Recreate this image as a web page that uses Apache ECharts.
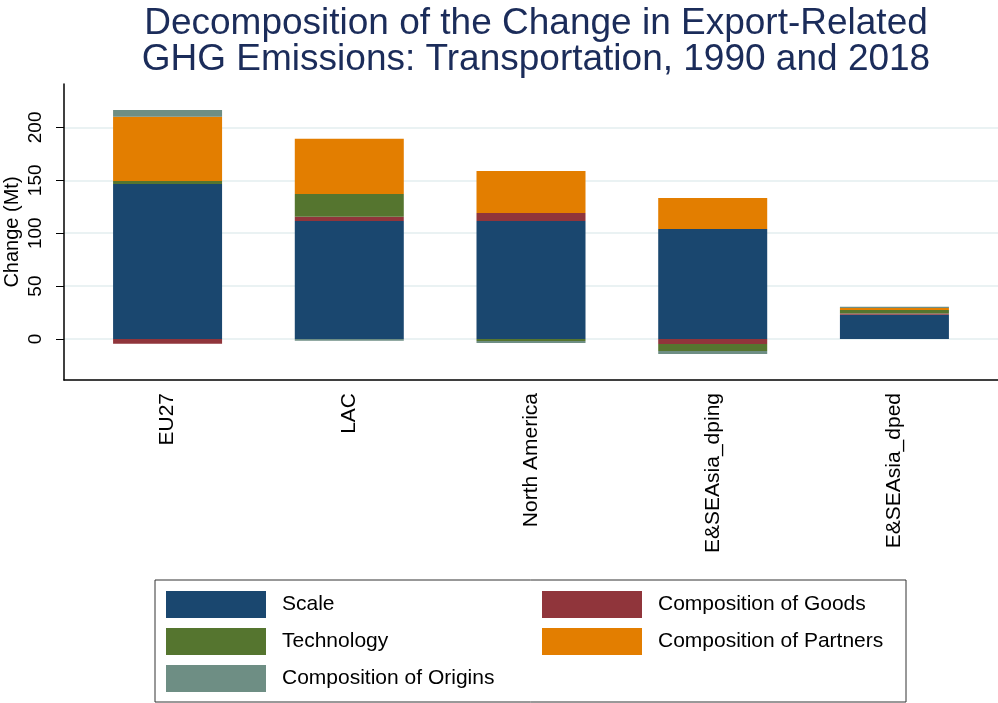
<!DOCTYPE html>
<html>
<head>
<meta charset="utf-8">
<script src="https://cdn.jsdelivr.net/npm/echarts@6/dist/echarts.min.js"></script>
<style>
  html, body { margin: 0; padding: 0; background: #fff; }
  #chart { width: 998px; height: 703px; }
</style>
</head>
<body>
<div id="chart"></div>
<script>
// regions on the x axis
const categories = ['EU27', 'LAC', 'North America', 'E&SEAsia_dping', 'E&SEAsia_dped'];
// change in Mt
const scale = [146.5, 111.5, 111.5, 104.0, 23.0];
const goods = [-4.4, 4.1, 7.6, -4.7, 1.0];
const technology = [2.8, 21.4, -1.9, -6.6, 3.5];
const partners = [60.8, 52.3, 39.7, 29.3, 1.9];
const origins = [6.3, -1.6, -1.9, -2.8, 1.0];
const yTicks = [0, 50, 100, 150, 200];

const chart = echarts.init(document.getElementById('chart'));

const font = '"Liberation Sans", Arial, Helvetica, sans-serif';
const positions = categories.map((c, i) => i + 1);

// value first so the stack runs on y, position second for x
function makeSeries(name, values, color) {
  return {
    name: name,
    type: 'bar',
    stack: 'total',
    barWidth: 109,
    itemStyle: { color: color },
    emphasis: { disabled: true },
    encode: { x: 1, y: 0 },
    data: values.map((v, i) => [v, positions[i]])
  };
}

const legendCommon = {
  orient: 'vertical',
  top: 591,
  padding: 0,
  icon: 'rect',
  itemWidth: 100,
  itemHeight: 27,
  itemGap: 10,
  selectedMode: false,
  textStyle: { fontSize: 21, color: '#000', fontFamily: font, padding: [2, 0, 0, 11] }
};

const option = {
  backgroundColor: '#fff',
  animation: false,
  textStyle: { fontFamily: font },
  title: {
    text: 'Decomposition of the Change in Export-Related\nGHG Emissions: Transportation, 1990 and 2018',
    left: 531,
    top: 0,
    textAlign: 'center',
    textStyle: {
      fontFamily: font,
      fontSize: 37,
      fontWeight: 'normal',
      color: '#1b2c5a',
      lineHeight: 36.6
    }
  },
  grid: { left: 64, right: 0, top: 84, bottom: 323, outerBoundsMode: 'none', containLabel: false },
  xAxis: {
    type: 'value',
    min: 0.43,
    max: 5.57,
    axisLine: { onZero: false, lineStyle: { color: '#000', width: 1.5 } },
    axisTick: { show: false, customValues: positions },
    splitLine: { show: false },
    axisLabel: {
      customValues: positions,
      rotate: 90,
      margin: 13,
      fontSize: 21,
      color: '#000',
      fontFamily: font,
      formatter: v => categories[Math.round(v) - 1]
    }
  },
  yAxis: {
    type: 'value',
    min: -38.75,
    max: 241,
    name: 'Change (Mt)',
    nameLocation: 'middle',
    nameRotate: 90,
    nameGap: 42,
    nameMoveOverlap: false,
    nameTextStyle: { fontSize: 20, color: '#000', fontFamily: font },
    axisLine: { show: true, lineStyle: { color: '#000', width: 1.5 } },
    axisTick: { show: true, length: 8, customValues: yTicks, lineStyle: { color: '#000' } },
    axisLabel: {
      customValues: yTicks,
      rotate: 90,
      margin: 19,
      fontSize: 19,
      color: '#000',
      fontFamily: font
    },
    splitLine: { show: true, lineStyle: { color: '#eaf2f3', width: 2 } }
  },
  legend: [
    Object.assign({}, legendCommon, {
      left: 166,
      data: ['Scale', 'Technology', 'Composition of Origins']
    }),
    Object.assign({}, legendCommon, {
      left: 542,
      data: ['Composition of Goods', 'Composition of Partners']
    })
  ],
  graphic: [
    {
      type: 'rect',
      shape: { x: 155, y: 580, width: 751, height: 122 },
      style: { fill: 'none', stroke: '#333', lineWidth: 1 },
      z: 0
    }
  ],
  series: [
    makeSeries('Scale', scale, '#1a476f'),
    makeSeries('Composition of Goods', goods, '#90353b'),
    makeSeries('Technology', technology, '#55752f'),
    makeSeries('Composition of Partners', partners, '#e37e00'),
    makeSeries('Composition of Origins', origins, '#6e8e84')
  ]
};

chart.setOption(option);
</script>
</body>
</html>
